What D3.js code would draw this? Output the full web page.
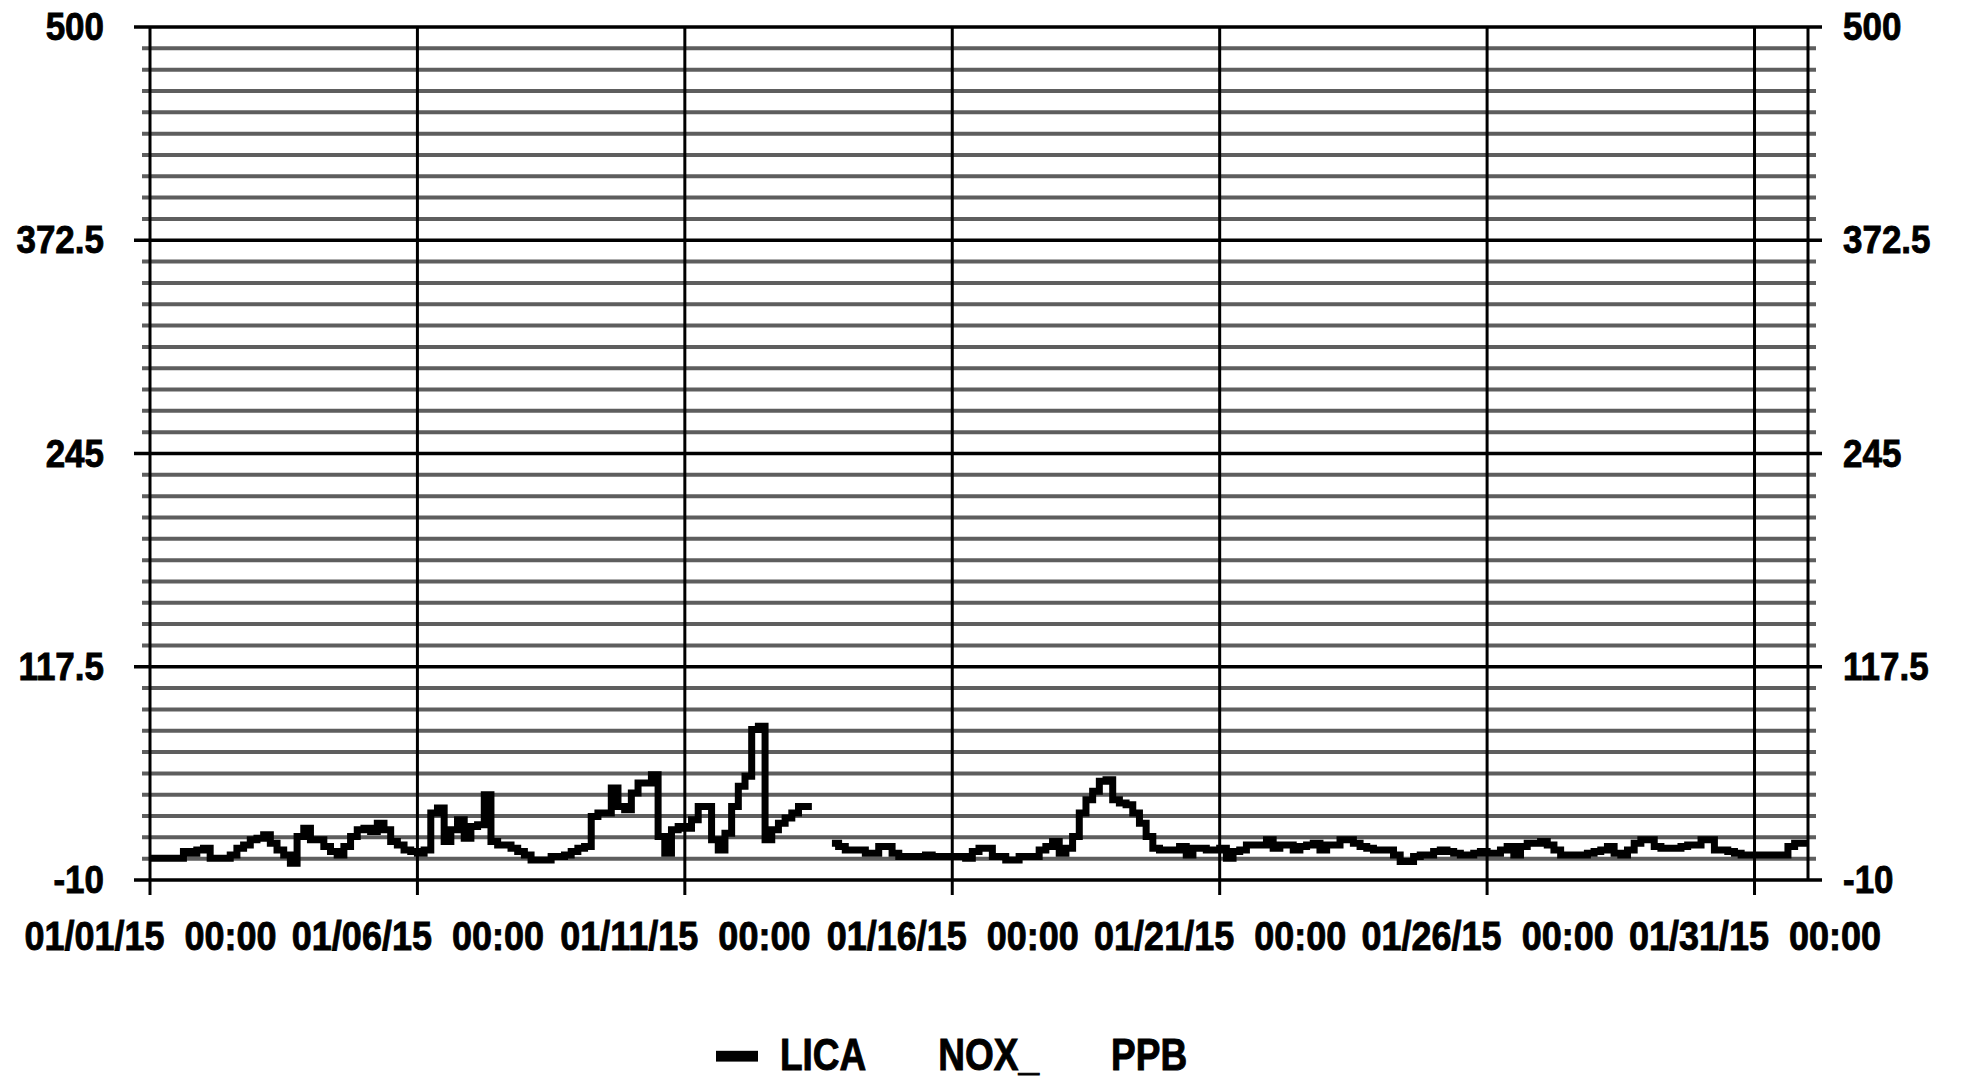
<!DOCTYPE html>
<html>
<head>
<meta charset="utf-8">
<script src="https://cdn.jsdelivr.net/npm/d3@7.9.0/dist/d3.min.js"></script>
<style>
  html, body { margin: 0; background: #fff; }
  svg { display: block; }
  text { font-family: 'Liberation Sans', Arial, sans-serif; font-weight: bold; fill: #000; stroke: #000; stroke-width: 0.8px; }
</style>
</head>
<body>
<svg id="chart" width="1961" height="1079"></svg>
<script>
// y axis: labelled values and the spacing of the minor grid
const yTicks = [-10, 117.5, 245, 372.5, 500];
const yMinorStep = 12.75;

// x axis: labelled dates, and the span of the record
const xTickDates = ['2015-01-01', '2015-01-06', '2015-01-11', '2015-01-16', '2015-01-21', '2015-01-26', '2015-01-31'];
const startDate = '2015-01-01T00:00';
const endDate = '2015-02-01T00:00';
const stepHours = 3;

// legend
const seriesWords = ['LICA', 'NOX_', 'PPB'];

// LICA NOX_ PPB, 3-hour readings, one row per day (null = no data)
const noxPpb = [
  3, 3, 3, 3, 3, 7, 6, 8,          // 01/01
  9, 3, 3, 3, 5, 9, 11, 14,        // 01/02
  15, 17, 12, 8, 5, 0, 16, 21,     // 01/03
  14, 14, 10, 7, 5, 10, 16, 20,    // 01/04
  21, 19, 24, 20, 13, 11, 8, 7,    // 01/05
  6, 8, 30, 33, 13, 20, 26, 15,    // 01/06
  22, 23, 41, 13, 11, 11, 9, 7,    // 01/07
  5, 2, 2, 2, 4, 4, 5, 7,          // 01/08
  9, 10, 28, 30, 30, 45, 34, 32,   // 01/09
  42, 48, 48, 53, 16, 6, 20, 22,   // 01/10
  21, 26, 34, 34, 14, 8, 18, 34,   // 01/11
  46, 52, 80, 82, 14, 20, 24, 27,  // 01/12
  30, 34, 34, null, null, null, 12, 10, // 01/13
  8, 8, 8, 6, 6, 10, 10, 6,        // 01/14
  4, 4, 4, 4, 5, 4, 4, 4,          // 01/15
  4, 4, 3, 7, 9, 9, 4, 4,          // 01/16
  2, 2, 4, 4, 4, 8, 10, 13,        // 01/17
  6, 9, 16, 30, 38, 43, 49, 50,    // 01/18
  38, 36, 35, 30, 24, 16, 9, 8,    // 01/19
  8, 8, 10, 5, 9, 9, 8, 8,         // 01/20
  9, 3, 7, 8, 11, 11, 11, 14,      // 01/21
  9, 11, 11, 8, 10, 11, 12, 8,     // 01/22
  11, 11, 14, 14, 12, 10, 9, 8,    // 01/23
  8, 8, 5, 1, 1, 4, 5, 5,          // 01/24
  7, 8, 7, 6, 5, 5, 6, 7,          // 01/25
  6, 6, 8, 10, 5, 10, 12, 12,      // 01/26
  13, 11, 8, 5, 5, 5, 5, 6,        // 01/27
  7, 8, 10, 6, 5, 8, 12, 14,       // 01/28
  14, 10, 9, 9, 9, 10, 11, 11,     // 01/29
  14, 14, 8, 8, 7, 6, 5, 5,        // 01/30
  5, 5, 5, 5, 5, 10, 12, 12        // 01/31
];

const parseDay = d3.timeParse('%Y-%m-%d');
const parseTime = d3.timeParse('%Y-%m-%dT%H:%M');

const plotLeft = 150, plotRight = 1808, plotTop = 27, plotBottom = 880;
const textStretch = 1.12;

const svg = d3.select('#chart');

const x = d3.scaleTime()
  .domain([parseTime(startDate), parseTime(endDate)])
  .range([plotLeft, plotRight]);

const y = d3.scaleLinear()
  .domain([yTicks[0], yTicks[yTicks.length - 1]])
  .range([plotBottom, plotTop]);

// grid
const gridValues = d3.range(y.domain()[0], y.domain()[1] + 1e-6, yMinorStep);
const isMajor = v => yTicks.some(t => Math.abs(t - v) < 1e-6);

svg.append('g')
  .selectAll('line')
  .data(gridValues.filter(v => !isMajor(v)))
  .join('line')
  .attr('x1', plotLeft - 8).attr('x2', plotRight + 8)
  .attr('y1', d => y(d)).attr('y2', d => y(d))
  .attr('stroke', '#5e5e5e')
  .attr('stroke-width', 4);

svg.append('g')
  .selectAll('line')
  .data(xTickDates.map(parseDay))
  .join('line')
  .attr('x1', d => x(d)).attr('x2', d => x(d))
  .attr('y1', plotTop).attr('y2', plotBottom + 15)
  .attr('stroke', '#000')
  .attr('stroke-width', 3);

svg.append('line')
  .attr('x1', plotRight).attr('x2', plotRight)
  .attr('y1', plotTop).attr('y2', plotBottom)
  .attr('stroke', '#000')
  .attr('stroke-width', 3);

svg.append('g')
  .selectAll('line')
  .data(yTicks)
  .join('line')
  .attr('x1', plotLeft - 16).attr('x2', plotRight + 14)
  .attr('y1', d => y(d)).attr('y2', d => y(d))
  .attr('stroke', '#000')
  .attr('stroke-width', 3.5);

// series: every reading is held flat for its 3 hours
const t0 = parseTime(startDate);
const steps = [];
noxPpb.forEach((v, i) => {
  const a = d3.timeHour.offset(t0, i * stepHours);
  const b = d3.timeHour.offset(t0, (i + 1) * stepHours);
  steps.push({ t: a, v: v }, { t: b, v: v });
});

const line = d3.line()
  .defined(d => d.v !== null)
  .x(d => x(d.t))
  .y(d => y(d.v));

svg.append('path')
  .datum(steps)
  .attr('d', line)
  .attr('fill', 'none')
  .attr('stroke', '#000')
  .attr('stroke-width', 7)
  .attr('stroke-linejoin', 'miter');

// axes (labels only, the grid carries the lines)
const fmt = d => String(d);
const stretch = g => g.selectAll('text')
  .attr('font-family', null)
  .attr('fill', '#000')
  .attr('transform', `scale(1,${textStretch})`);

svg.append('g')
  .attr('transform', `translate(${plotLeft},0)`)
  .call(d3.axisLeft(y).tickValues(yTicks).tickFormat(fmt).tickSize(0).tickPadding(46))
  .call(g => g.select('.domain').remove())
  .call(g => g.selectAll('text').attr('font-size', 35))
  .call(stretch);

svg.append('g')
  .attr('transform', `translate(${plotRight},0)`)
  .call(d3.axisRight(y).tickValues(yTicks).tickFormat(fmt).tickSize(0).tickPadding(35))
  .call(g => g.select('.domain').remove())
  .call(g => g.selectAll('text').attr('font-size', 35))
  .call(stretch);

svg.append('g')
  .attr('transform', `translate(0,${plotBottom})`)
  .call(d3.axisBottom(x).tickValues(xTickDates.map(parseDay))
    .tickFormat(d3.timeFormat('%m/%d/%y  %H:%M')).tickSize(0).tickPadding(37))
  .call(g => g.select('.domain').remove())
  .call(g => g.selectAll('text').attr('font-size', 36).style('white-space', 'pre'))
  .call(stretch);

// legend
const legend = svg.append('g')
  .attr('transform', 'translate(716,1070) scale(1,1.2)');

legend.append('rect')
  .attr('x', 0).attr('y', -16)
  .attr('width', 42).attr('height', 9)
  .attr('fill', '#000');

let cursor = 64;
seriesWords.forEach(word => {
  const t = legend.append('text')
    .attr('x', cursor)
    .attr('y', 0)
    .attr('font-size', 37)
    .text(word);
  cursor += t.node().getComputedTextLength() + 72;
});
</script>
</body>
</html>
